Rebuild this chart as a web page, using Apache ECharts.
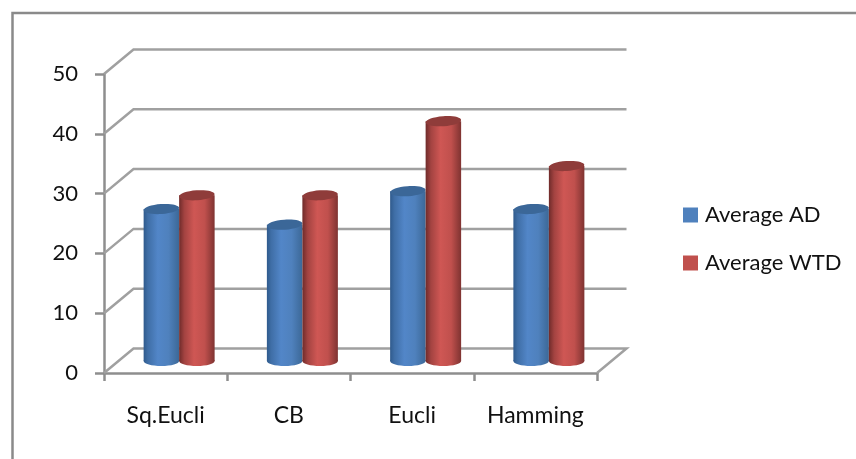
<!DOCTYPE html>
<html>
<head>
<meta charset="utf-8">
<style>html,body{margin:0;padding:0;background:#fff}#chart{width:856px;height:459px}</style>
<script src="https://cdn.jsdelivr.net/npm/echarts@6/dist/echarts.min.js"></script>
</head>
<body>
<div id="chart"></div>
<script>
// Average distance measures, drawn as cylinders on a pseudo-3D floor and walls.
const categories = ['Sq.Eucli', 'CB', 'Eucli', 'Hamming'];
const averageAD = [25.4, 22.8, 28.4, 25.4];
const averageWTD = [27.7, 27.7, 40.1, 32.6];
const yTicks = [0, 10, 20, 30, 40, 50];

// Depth of the box, and how far into it the cylinders stand.
const DEPTH_X = 29.5, DEPTH_Y = -24.5;
const MID_X = 13.5, MID_Y = -12;
const BAR_W = 35.5, RY = 5;
const GRID_COLOR = '#a0a0a0', AXIS_COLOR = '#8e8e8e';

function wallLine(params, api) {
  const v = api.value(0);
  const area = params.coordSys;
  const left = api.coord([0, v]);
  const x0 = area.x, y = left[1];
  const pts = [[x0, y], [x0 + DEPTH_X, y + DEPTH_Y], [x0 + area.width + DEPTH_X, y + DEPTH_Y]];
  if (v === 0) pts.push([x0 + area.width, y]);
  return { type: 'polyline', shape: { points: pts }, style: { stroke: GRID_COLOR, lineWidth: 2.5, fill: null } };
}

function cylinder(side, stops, topColor) {
  return function (params, api) {
    const top = api.coord([api.value(0), api.value(1)]);
    const base = api.coord([api.value(0), 0]);
    const xl = top[0] + MID_X + (side < 0 ? -BAR_W : 0);
    const xr = xl + BAR_W;
    const cx = (xl + xr) / 2;
    const yt = top[1] + MID_Y;
    const yb = base[1] + MID_Y;
    const fill = new echarts.graphic.LinearGradient(0, 0, 1, 0,
      stops.map(s => ({ offset: s[0], color: s[1] })));
    return {
      type: 'group',
      children: [
        { type: 'ellipse', shape: { cx, cy: yb, rx: BAR_W / 2, ry: RY }, style: { fill } },
        { type: 'rect', shape: { x: xl, y: yt, width: BAR_W, height: yb - yt }, style: { fill } },
        { type: 'ellipse', shape: { cx, cy: yt, rx: BAR_W / 2, ry: RY },
          rotation: 0.07, originX: cx, originY: yt, style: { fill: topColor } }
      ]
    };
  };
}

const blueStops = [[0, '#2f5a8c'], [0.12, '#3f6ea6'], [0.4, '#5286c8'], [0.7, '#4f81bd'], [1, '#3c6897']];
const redStops = [[0, '#6f2b2a'], [0.15, '#a34341'], [0.42, '#cf5754'], [0.72, '#c0504d'], [1, '#7f3331']];

const chart = echarts.init(document.getElementById('chart'), null, { renderer: 'canvas' });
chart.setOption({
  animation: false,
  backgroundColor: '#fff',
  textStyle: { fontFamily: 'Lato' },
  grid: { left: 104, right: 259, top: 74, bottom: 86 },
  legend: {
    orient: 'vertical', left: 683, top: 204, padding: 0, itemWidth: 15, itemHeight: 15, itemGap: 26,
    icon: 'rect', data: ['Average AD', 'Average WTD'],
    textStyle: { fontFamily: 'Lato', fontSize: 22, color: '#111', padding: [0, 0, 0, 2] }
  },
  xAxis: {
    type: 'category', data: categories,
    axisLine: { lineStyle: { color: AXIS_COLOR, width: 2.5 } },
    axisTick: { show: true, interval: 0, alignWithLabel: false, length: 8, lineStyle: { color: AXIS_COLOR, width: 2.5 } },
    axisLabel: { interval: 0, hideOverlap: false, fontFamily: 'Lato', fontSize: 23, color: '#111', margin: 31 }
  },
  yAxis: {
    type: 'value', min: 0, max: 50, interval: 10,
    axisLine: { show: true, lineStyle: { color: AXIS_COLOR, width: 2.5 } },
    axisTick: { show: true, length: 9, lineStyle: { color: AXIS_COLOR, width: 2.5 } },
    splitLine: { show: false },
    axisLabel: { fontFamily: 'Lato', fontSize: 22, color: '#111', margin: 26 }
  },
  graphic: [{
    type: 'polyline', silent: true,
    shape: { points: [[12.5, 459], [12.5, 13], [856, 13]] },
    style: { stroke: '#8a8a8a', lineWidth: 2.5, fill: null }
  }],
  series: [
    { type: 'custom', silent: true, legendHoverLink: false, coordinateSystem: 'cartesian2d',
      data: yTicks.map(v => [v]), encode: { y: 0 }, renderItem: wallLine, z: 1 },
    { type: 'custom', name: 'Average AD', coordinateSystem: 'cartesian2d', z: 2,
      itemStyle: { color: '#4f81bd' }, encode: { x: 0, y: 1 },
      data: averageAD.map((v, i) => [i, v]), renderItem: cylinder(-1, blueStops, '#3b6798') },
    { type: 'custom', name: 'Average WTD', coordinateSystem: 'cartesian2d', z: 3,
      itemStyle: { color: '#c0504d' }, encode: { x: 0, y: 1 },
      data: averageWTD.map((v, i) => [i, v]), renderItem: cylinder(1, redStops, '#8f3c3a') }
  ]
});
</script>
</body>
</html>
